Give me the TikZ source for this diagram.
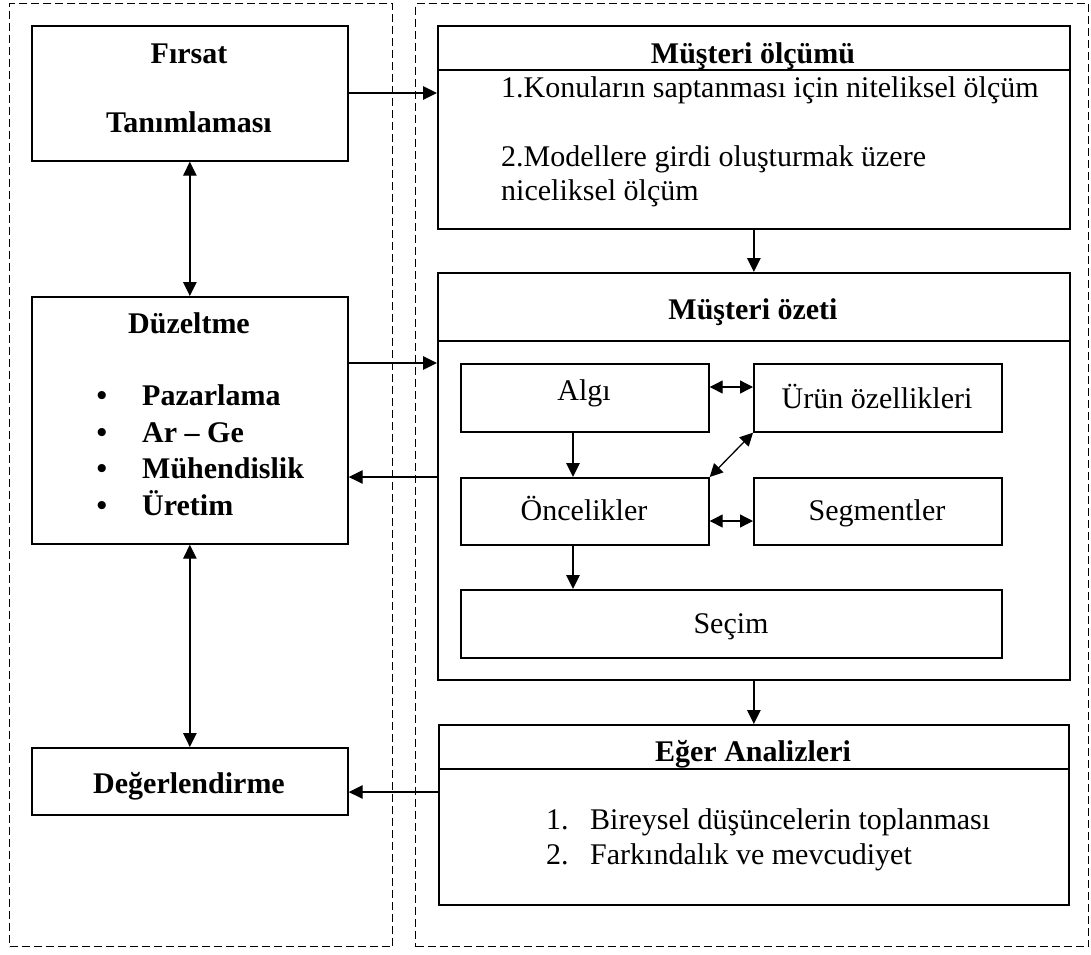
\documentclass[tikz,border=0pt]{standalone}
\usepackage{fontspec}
\setmainfont{Liberation Serif}
\usetikzlibrary{arrows.meta,calc}
\begin{document}
\begin{tikzpicture}[x=1pt,y=-1pt,
  panel/.style={draw,dash pattern=on 8pt off 4pt,line width=1.3pt,anchor=north west,inner sep=0pt},
  box/.style={draw,line width=1.7pt,anchor=north west,inner sep=0pt},
  rtxt/.style={font=\fontsize{30}{36}\selectfont,inner sep=0pt,anchor=base},
  btxt/.style={font=\fontsize{30}{36}\selectfont\bfseries,inner sep=0pt,anchor=base},
  arr/.style={-{Triangle[length=14pt,width=13.5pt]},line width=1.3pt},
  darr/.style={{Triangle[length=14pt,width=13.5pt]}-{Triangle[length=14pt,width=13.5pt]},line width=1.3pt},
  sarr/.style={{Triangle[length=13pt,width=13pt]}-{Triangle[length=13pt,width=13pt]},line width=1.3pt}]
\useasboundingbox (0,0) rectangle (1091,954);

% dashed panels
\node[panel,minimum width=383pt,minimum height=943pt] (lp) at (9,3) {};
\node[panel,minimum width=673pt,minimum height=943pt] (rp) at (415,3) {};

% left column
\node[box,minimum width=316pt,minimum height=135pt] (firsat) at (31,25) {};
\node[btxt] (firsatA) at (189,63) {Fırsat};
\node[btxt] (firsatB) at (189,132) {Tanımlaması};

\node[box,minimum width=316pt,minimum height=247pt] (duz) at (31,296) {};
\node[btxt] (duzT) at (189,333) {Düzeltme};
\node[btxt] (bu1) at (102,405) {\textbullet};
\node[btxt] (bu2) at (102,442) {\textbullet};
\node[btxt] (bu3) at (102,478) {\textbullet};
\node[btxt] (bu4) at (102,515) {\textbullet};
\node[btxt,anchor=base west] (it1) at (142,405) {Pazarlama};
\node[btxt,anchor=base west] (it2) at (142,442) {Ar – Ge};
\node[btxt,anchor=base west] (it3) at (142,478) {Mühendislik};
\node[btxt,anchor=base west] (it4) at (142,515) {Üretim};

\node[box,minimum width=316pt,minimum height=67pt] (deger) at (31,747) {};
\node[btxt] (degerT) at (189,793) {Değerlendirme};

% right column: customer measurement
\node[box,minimum width=632pt,minimum height=203pt] (olcum) at (437,25) {};
\draw[line width=1.7pt] ($(olcum.north west)+(0,45)$) -- ($(olcum.north east)+(0,45)$);
\node[btxt] (olcumT) at (753,63) {Müşteri ölçümü};
\node[rtxt,anchor=base west] (o1) at (501,97) {1.Konuların saptanması için niteliksel ölçüm};
\node[rtxt,anchor=base west] (o2) at (501,166) {2.Modellere girdi oluşturmak üzere};
\node[rtxt,anchor=base west] (o3) at (501,200) {niceliksel ölçüm};

% customer summary
\node[box,minimum width=632pt,minimum height=407pt] (ozet) at (437,272) {};
\draw[line width=1.7pt] ($(ozet.north west)+(0,69)$) -- ($(ozet.north east)+(0,69)$);
\node[btxt] (ozetT) at (753,319) {Müşteri özeti};

\node[box,minimum width=248pt,minimum height=68pt] (algi) at (460,363) {};
\node[rtxt] (algiT) at (584,400) {Algı};
\node[box,minimum width=248pt,minimum height=68pt] (urun) at (753,363) {};
\node[rtxt] (urunT) at (877,408) {Ürün özellikleri};
\node[box,minimum width=248pt,minimum height=67pt] (oncel) at (460,477) {};
\node[rtxt] (oncelT) at (584,520) {Öncelikler};
\node[box,minimum width=248pt,minimum height=67pt] (segm) at (753,477) {};
\node[rtxt] (segmT) at (877,520) {Segmentler};
\node[box,minimum width=541pt,minimum height=68pt] (secim) at (460,589) {};
\node[rtxt] (secimT) at (731,633) {Seçim};

% what-if analyses
\node[box,minimum width=630pt,minimum height=180pt] (eger) at (438,724) {};
\draw[line width=1.7pt] ($(eger.north west)+(0,45)$) -- ($(eger.north east)+(0,45)$);
\node[btxt] (egerT) at (753,761) {Eğer Analizleri};
\node[rtxt,anchor=base west] (e1n) at (546,829) {1.};
\node[rtxt,anchor=base west] (e1) at (590,829) {Bireysel düşüncelerin toplanması};
\node[rtxt,anchor=base west] (e2n) at (546,864) {2.};
\node[rtxt,anchor=base west] (e2) at (590,864) {Farkındalık ve mevcudiyet};

% connectors
\coordinate (c1) at ($(firsat.north east)+(0,68)$);
\draw[arr] (c1) -- (c1 -| olcum.west);
\draw[darr] (firsat.south) -- (duz.north);
\coordinate (c2) at ($(duz.north east)+(0,67)$);
\draw[arr] (c2) -- (c2 -| ozet.west);
\coordinate (c3) at ($(ozet.north west)+(0,205)$);
\draw[arr] (c3) -- (c3 -| duz.east);
\draw[darr] (duz.south) -- (deger.north);
\coordinate (c4) at ($(eger.north west)+(0,68)$);
\draw[arr] (c4) -- (c4 -| deger.east);
\draw[arr] (olcum.south) -- (ozet.north);
\draw[arr] (ozet.south) -- (eger.north);

\coordinate (c5) at ($(algi.north east)+(0,24)$);
\draw[sarr] (c5) -- (c5 -| urun.west);
\coordinate (c6) at ($(algi.south west)+(113,0)$);
\draw[arr] (c6) -- (c6 |- oncel.north);
\coordinate (c7) at ($(oncel.north east)+(0,44)$);
\draw[sarr] (c7) -- (c7 -| segm.west);
\draw[sarr] (oncel.north east) -- (urun.south west);
\coordinate (c8) at ($(oncel.south west)+(113,0)$);
\draw[arr] (c8) -- (c8 |- secim.north);
\end{tikzpicture}
\end{document}
